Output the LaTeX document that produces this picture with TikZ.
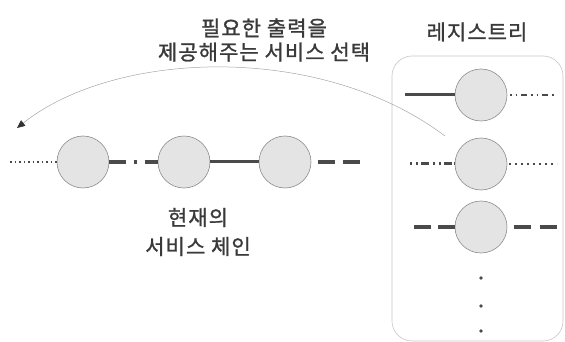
\documentclass[tikz,border=0pt]{standalone}
\usepackage{fontspec}
\newfontfamily\kr[LetterSpace=5,FakeBold=1.2]{Noto Sans CJK KR}
\usetikzlibrary{arrows.meta,calc}
\definecolor{txt}{HTML}{3A3A3A}
\definecolor{ln}{HTML}{4A4A4A}
\definecolor{cfill}{HTML}{E4E4E4}
\definecolor{cdraw}{HTML}{8C8C8C}
\tikzset{
  svc/.style={circle,minimum size=52pt,inner sep=0pt,fill=cfill,draw=cdraw,line width=0.6pt},
  lbl/.style={font=\kr\fontsize{21}{24}\selectfont,text=txt,align=center,inner sep=0pt},
  link/.style={draw=ln,line width=3.6pt},
  dotlink/.style={draw=ln,line width=2.4pt,dash pattern=on 1.5pt off 3.5pt},
}
\begin{document}
\begin{tikzpicture}[x=1pt,y=-1pt]
\useasboundingbox (0,0) rectangle (565,342);
% registry box
\node[draw=black!22,line width=0.6pt,rounded corners=20pt,minimum width=171pt,minimum height=285pt,inner sep=0pt] (reg) at (477.5,198.5) {};
% titles
\node[lbl] (sel) at (264,40) {필요한 출력을\\제공해주는 서비스 선택};
\node[lbl] (regt) at (477,32) {레지스트리};
\node[lbl,font=\kr\fontsize{21}{29}\selectfont] (chain) at (198,232) {현재의\\서비스 체인};
% current chain
\node[svc] (c1) at (83,162) {};
\node[svc] (c2) at (184,162) {};
\node[svc] (c3) at (285,162) {};
\coordinate (l0) at (10,162);
\coordinate (r0a) at (318,162);
\coordinate (r0b) at (361,162);
\draw[dotlink,line width=2.2pt,dash pattern=on 1.5pt off 3pt] (l0) -- (c1.west);
\draw[link,dash pattern=on 17pt off 8pt on 2.5pt off 8pt on 22pt] (c1.east) -- (c2.west);
\draw[link,line width=3pt] (c2.east) -- (c3.west);
\draw[link,dash pattern=on 17pt off 8pt] (r0a) -- (r0b);
% registry services
\node[svc] (s1) at (481,95) {};
\node[svc] (s2) at (481,164) {};
\node[svc] (s3) at (481,227) {};
\coordinate (a1) at (405,95);
\coordinate (b1a) at (510,95);
\coordinate (b1b) at (556,95);
\draw[link,line width=3pt] (a1) -- (s1.west);
\draw[link,line width=2.4pt,dash pattern=on 1.5pt off 4pt on 1.5pt off 4pt on 6pt off 4pt] (b1a) -- (b1b);
\coordinate (a2) at (410,164);
\coordinate (b2a) at (509,164);
\coordinate (b2b) at (557,164);
\draw[link,line width=3pt,dash pattern=on 2pt off 4pt on 2pt off 3pt on 8pt off 4pt on 2pt off 4pt on 2pt off 3pt on 8pt] (a2) -- (s2.west);
\draw[dotlink,line width=2.8pt,dash pattern=on 2pt off 4pt] (b2a) -- (b2b);
\coordinate (a3) at (414,227);
\coordinate (b3a) at (514,227);
\coordinate (b3b) at (557,227);
\draw[link,dash pattern=on 17pt off 7pt] (a3) -- (s3.west);
\draw[link,dash pattern=on 17pt off 9pt] (b3a) -- (b3b);
% ellipsis dots
\fill[ln] (481,278) circle (1.8pt) (481,306) circle (1.8pt) (481,331) circle (1.8pt);
% selection arrow
\coordinate (from) at (445,136);
\coordinate (to) at (17,128);
\draw[black!35,line width=0.5pt,-{Triangle[width=7pt,length=8pt,fill=black!80,color=black!80]}] (from) .. controls (320,42) and (115,50) .. (to);
\end{tikzpicture}
\end{document}
